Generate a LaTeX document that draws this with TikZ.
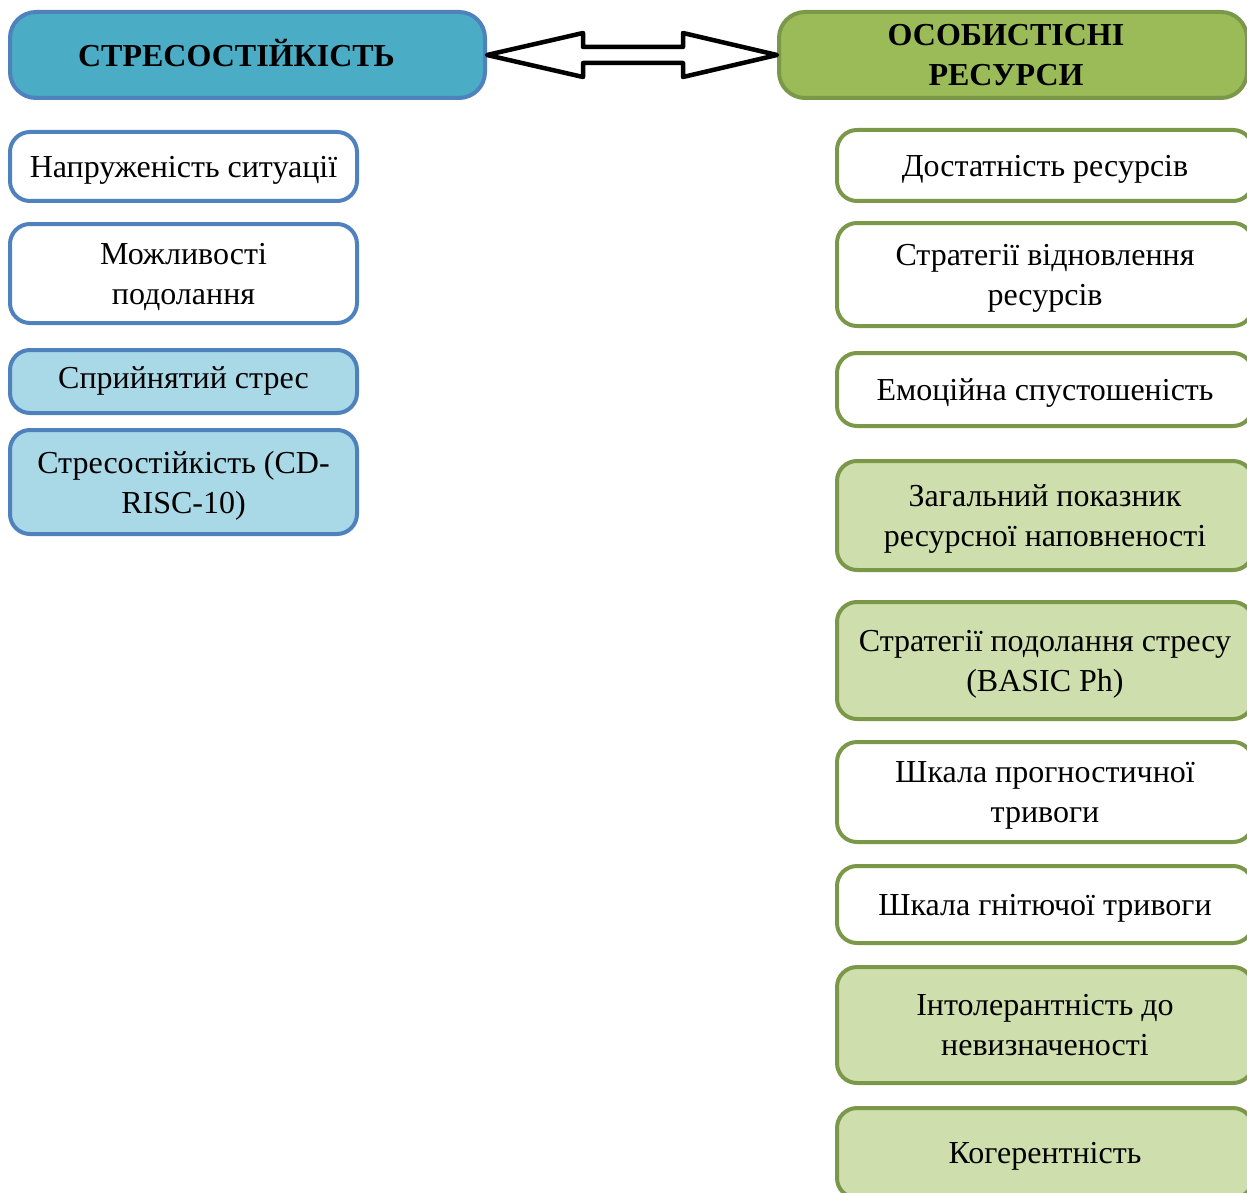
\documentclass[tikz,border=0pt]{standalone}
\usepackage{fontspec}
\setmainfont{Liberation Serif}
\usetikzlibrary{calc}
\definecolor{hlfill}{HTML}{4BACC6}
\definecolor{blueb}{HTML}{4F81BD}
\definecolor{lbfill}{HTML}{A9D8E6}
\definecolor{hrfill}{HTML}{9BBB59}
\definecolor{greenb}{HTML}{7B9849}
\definecolor{lgfill}{HTML}{CFDEAD}
\begin{document}
\begin{tikzpicture}[x=1pt,y=-1pt,
  box/.style={rectangle, rounded corners=20, line width=4, align=center,
    font=\fontsize{32}{40}\selectfont, inner sep=0, text depth=0pt},
  lbox/.style={box, draw=blueb, fill=white, minimum width=347},
  rbox/.style={box, draw=greenb, fill=white, minimum width=416},
  head/.style={box, rounded corners=26, font=\bfseries\fontsize{32}{40}\selectfont},
  dblarrow/.style={line width=4.5, fill=white, line join=round}
]
\useasboundingbox (0,0) rectangle (1247,1193);
\clip (0,0) rectangle (1247,1193);

% headers
\node[head, draw=blueb, fill=hlfill, minimum width=475, minimum height=86, text depth=4pt] (hl) at (247.5,55) {СТРЕСОСТІЙКІСТЬ\hspace*{22pt}};
\node[head, draw=greenb, fill=hrfill, minimum width=468, minimum height=86, text depth=-5pt] (hr) at (1013,55) {ОСОБИСТІСНІ\hspace*{14pt}\\РЕСУРСИ\hspace*{14pt}};

% double arrow between headers
\draw[dblarrow] (hl.east) -- ++(96,-22) -- ++(0,14) -- ($(hr.west)+(-94,-8)$) -- ++(0,-14)
  -- (hr.west) -- ++(-94,22) -- ++(0,-14) -- ($(hl.east)+(96,8)$) -- ++(0,14) -- cycle;

% left column
\node[lbox, minimum height=69] (l1) at (183.5,166.5) {Напруженість ситуації};
\node[lbox, minimum height=99] (l2) at (183.5,273.5) {Можливості\\подолання};
\node[lbox, fill=lbfill, minimum height=63, text depth=7pt] (l3) at (183.5,381.5) {Сприйнятий стрес};
\node[lbox, fill=lbfill, minimum height=104] (l4) at (183.5,482) {Стресостійкість (CD-\\RISC-10)};

% right column
\node[rbox, minimum height=71] (r1) at (1045,165.5) {Достатність ресурсів};
\node[rbox, minimum height=103] (r2) at (1045,274.5) {Стратегії відновлення\\ресурсів};
\node[rbox, minimum height=73] (r3) at (1045,389.5) {Емоційна спустошеність};
\node[rbox, fill=lgfill, minimum height=109] (r4) at (1045,515.5) {Загальний показник\\ресурсної наповненості};
\node[rbox, fill=lgfill, minimum height=117] (r5) at (1045,660.5) {Стратегії подолання стресу\\(BASIC Ph)};
\node[rbox, minimum height=100] (r6) at (1045,792) {Шкала прогностичної\\тривоги};
\node[rbox, minimum height=77] (r7) at (1045,904.5) {Шкала гнітючої тривоги};
\node[rbox, fill=lgfill, minimum height=116] (r8) at (1045,1025) {Інтолерантність до\\невизначеності};
\node[rbox, fill=lgfill, minimum height=90] (r9) at (1045,1153) {Когерентність};
\end{tikzpicture}
\end{document}
